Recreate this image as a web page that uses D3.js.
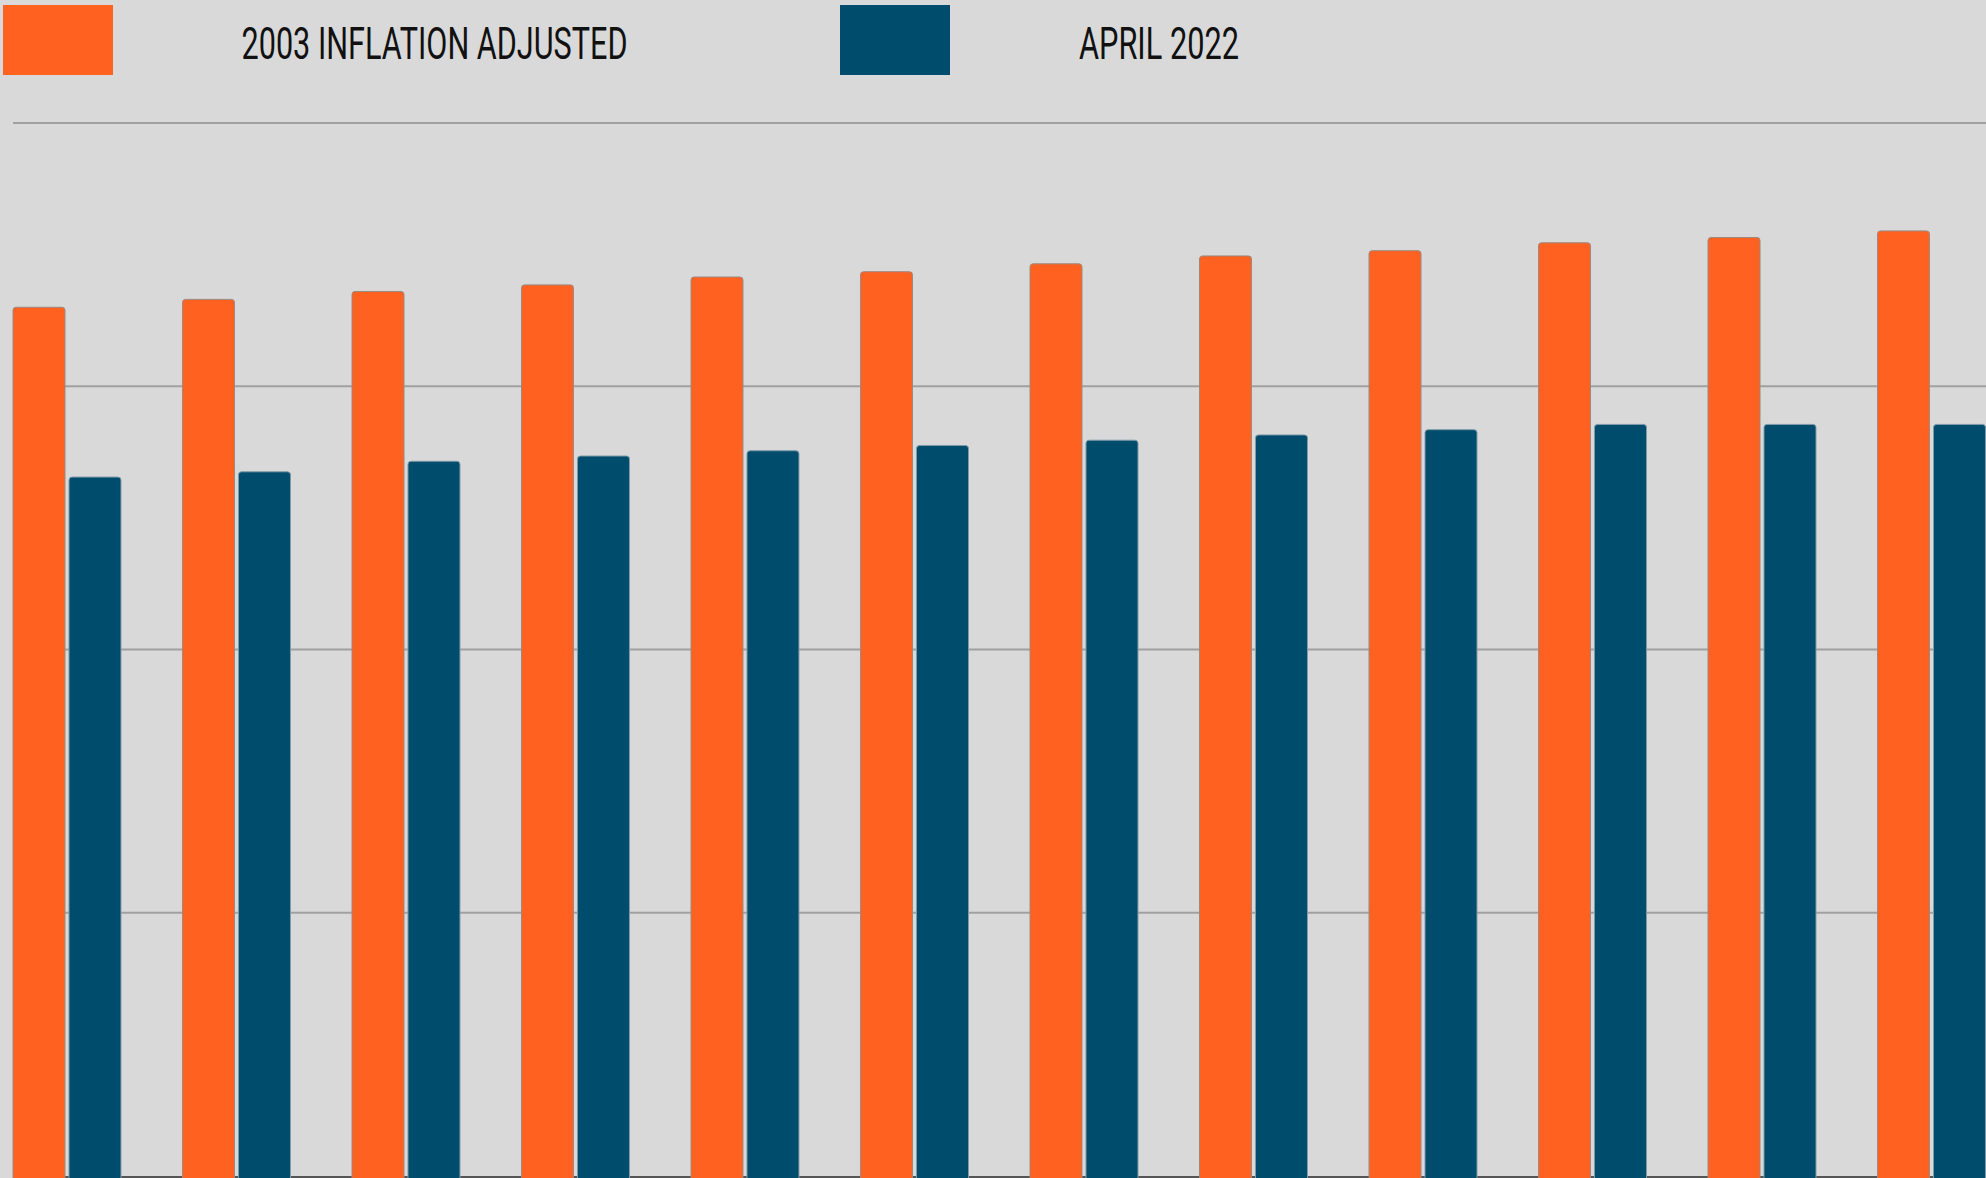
<!DOCTYPE html>
<html>
<head>
<meta charset="utf-8">
<script src="https://cdn.jsdelivr.net/npm/d3@7"></script>
<style>
  html, body { margin: 0; padding: 0; background: #d9d9d9; overflow: hidden; }
  #result { width: 1986px; height: 1178px; }
</style>
</head>
<body>
<div id="result"></div>
<script>
// chart data (one gridline = 1 unit)
const groups = ['1', '2', '3', '4', '5', '6', '7', '8', '9', '10', '11', '12'];
const seriesNames = ['2003 INFLATION ADJUSTED', 'APRIL 2022'];
const adjusted2003 = [3.30, 3.33, 3.36, 3.385, 3.415, 3.435, 3.465, 3.495, 3.515, 3.545, 3.565, 3.59];
const april2022 = [2.655, 2.675, 2.715, 2.735, 2.755, 2.775, 2.795, 2.815, 2.835, 2.855, 2.855, 2.855];
const gridValues = [1, 2, 3, 4];

const width = 1986;
const height = 1178;
const colors = ['#ff6121', '#004c6d'];
const radius = 3;

const svg = d3.select('#result')
    .append('svg')
    .attr('width', width)
    .attr('height', height);

// scales
const x0 = d3.scaleBand()
    .domain(groups)
    .range([13, 1985.5])
    .paddingInner(0.363)
    .paddingOuter(0);

const x1 = d3.scaleBand()
    .domain(seriesNames)
    .range([0, x0.bandwidth()])
    .paddingInner(0.0714);

const yScale = d3.scaleLinear()
    .domain([0, 4])
    .range([1176, 123]);

// gridlines
svg.append('g')
    .selectAll('line')
    .data(gridValues)
    .enter()
    .append('line')
        .attr('x1', 13)
        .attr('x2', width)
        .attr('y1', d => yScale(d))
        .attr('y2', d => yScale(d))
        .attr('stroke', '#a0a0a0')
        .attr('stroke-width', 2);

// baseline
svg.append('line')
    .attr('x1', 13)
    .attr('x2', width)
    .attr('y1', yScale(0) + 1)
    .attr('y2', yScale(0) + 1)
    .attr('stroke', '#555555')
    .attr('stroke-width', 2);

// bar shape with rounded top corners, running past the bottom edge
function barPath(x, y, w) {
    const bottom = height + 5;
    return `M${x},${bottom} V${y + radius} Q${x},${y} ${x + radius},${y}`
        + ` H${x + w - radius} Q${x + w},${y} ${x + w},${y + radius} V${bottom} Z`;
}

const rows = groups.map((g, i) => ({ group: g, values: [adjusted2003[i], april2022[i]] }));

const groupG = svg.append('g')
    .selectAll('g')
    .data(rows)
    .enter()
    .append('g')
        .attr('transform', d => `translate(${x0(d.group)},0)`);

groupG.selectAll('path')
    .data(d => d.values.map((v, k) => ({ key: seriesNames[k], value: v, k: k })))
    .enter()
    .append('path')
        .attr('d', d => barPath(x1(d.key), yScale(d.value), x1.bandwidth()))
        .attr('fill', d => colors[d.k])
        .attr('stroke', d => d.k === 0 ? '#9a8a80' : '#7f9aa8')
        .attr('stroke-width', 1);

// legend
const legendX = [3, 840];
const textX = [241.5, 1079];
const textW = [386, 160];

const legend = svg.append('g');

legend.selectAll('rect')
    .data(seriesNames)
    .enter()
    .append('rect')
        .attr('x', (d, i) => legendX[i])
        .attr('y', 5)
        .attr('width', 110)
        .attr('height', 70)
        .attr('fill', (d, i) => colors[i]);

legend.selectAll('text')
    .data(seriesNames)
    .enter()
    .append('text')
        .attr('x', (d, i) => textX[i])
        .attr('y', 58.5)
        .attr('textLength', (d, i) => textW[i])
        .attr('lengthAdjust', 'spacingAndGlyphs')
        .style('font-family', 'Roboto, sans-serif')
        .style('font-size', '44px')
        .style('font-weight', 400)
        .style('fill', '#111')
        .text(d => d);
</script>
</body>
</html>
